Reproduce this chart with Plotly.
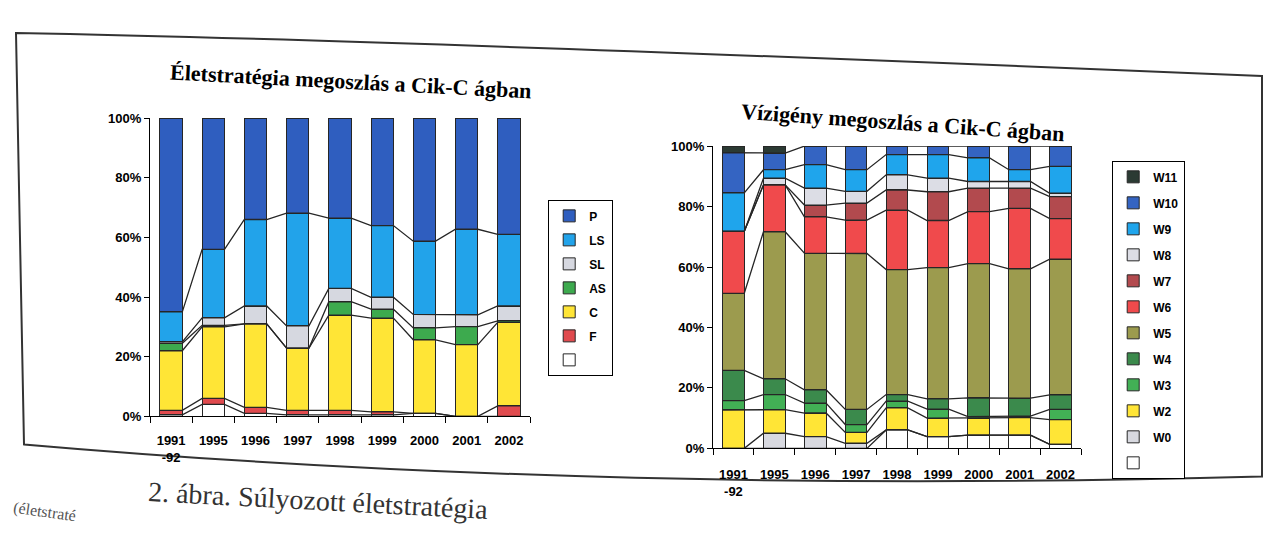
import plotly.graph_objects as go
import numpy as np

# Page geometry (empirical): rendered x = OX + fx, rendered y = VA + VB * fy
OX = 8
VA, VB = 15.0, 0.971
FW, FH = 1263, 533


def px(x):
    return (x - OX) / FW


def py(y):
    return 1 - ((y - VA) / VB) / FH


# ---------------- data ----------------
years = ["1991<br>-92", "1995", "1996", "1997", "1998", "1999", "2000", "2001", "2002"]

# Left chart: Életstratégia (bottom -> top)
blank_L = [0.5, 4.0, 1.0, 0.5, 0.5, 0.5, 1.0, 0.0, 0.0]
F = [1.5, 2.0, 2.0, 1.5, 1.5, 1.0, 0.0, 0.0, 3.5]
C = [20.0, 24.0, 28.0, 21.0, 32.0, 31.4, 24.7, 24.0, 28.0]
AS = [2.5, 0.5, 0.0, 0.0, 4.5, 3.0, 4.0, 6.0, 0.5]
SL = [0.5, 2.5, 6.0, 7.5, 4.5, 4.0, 4.5, 4.0, 5.0]
LS = [10.0, 23.0, 29.0, 38.0, 23.6, 24.0, 24.6, 28.6, 24.0]
P = [65.0, 44.0, 34.0, 32.0, 33.6, 36.0, 41.3, 37.2, 39.0]

# Right chart: Vízigény (bottom -> top)
blank_R = [0.0, 0.0, 0.0, 0.0, 6.1, 3.9, 4.4, 4.4, 1.3]
W0 = [0.0, 5.0, 3.9, 1.7, 0.0, 0.0, 0.0, 0.0, 0.0]
W2 = [12.7, 7.8, 7.8, 3.6, 7.3, 6.1, 5.6, 5.8, 8.2]
W3 = [3.1, 5.0, 3.3, 2.6, 2.2, 3.0, 0.5, 0.5, 3.4]
W4 = [10.0, 5.2, 4.4, 5.0, 2.2, 3.4, 6.2, 5.9, 4.8]
W5 = [25.5, 48.6, 45.2, 51.7, 41.3, 43.4, 44.4, 42.8, 44.9]
W6 = [20.5, 15.5, 12.0, 11.1, 19.6, 15.6, 17.2, 20.0, 13.4]
W7 = [0.0, 0.0, 3.9, 5.6, 6.7, 9.5, 7.8, 6.7, 7.3]
W8 = [0.0, 2.2, 5.6, 3.9, 5.0, 4.5, 2.2, 2.2, 1.1]
W9 = [12.7, 2.8, 7.8, 7.2, 6.7, 7.8, 7.8, 3.9, 8.9]
W10 = [13.3, 5.5, 6.1, 7.8, 2.8, 2.8, 3.9, 7.8, 6.7]
W11 = [2.2, 2.3, 0.0, 0.0, 0.0, 0.0, 0.0, 0.0, 0.0]

yticks = [0, 20, 40, 60, 80, 100]
ytick_labels = ["0%", "20%", "40%", "60%", "80%", "100%"]

left_series = [
    (" ", blank_L, "#FFFFFF"),
    ("F", F, "#E04A4E"),
    ("C", C, "#FFE536"),
    ("AS", AS, "#3DAA4E"),
    ("SL", SL, "#D6D8E0"),
    ("LS", LS, "#22A3EA"),
    ("P", P, "#2F5EBF"),
]
right_series = [
    (" ", blank_R, "#FFFFFF"),
    ("W0", W0, "#D8D9E0"),
    ("W2", W2, "#FFE536"),
    ("W3", W3, "#42B055"),
    ("W4", W4, "#3B8A4C"),
    ("W5", W5, "#9C9B4E"),
    ("W6", W6, "#F04A4C"),
    ("W7", W7, "#B24A4E"),
    ("W8", W8, "#DCDDE5"),
    ("W9", W9, "#1FA5EC"),
    ("W10", W10, "#3464C2"),
    ("W11", W11, "#2B3A33"),
]

xs = list(range(len(years)))
bw = 0.53
edge = "#262626"

fig = go.Figure()


def add_chart(series, xa, ya, leg):
    arr = np.array([s[1] for s in series], dtype=float)
    tot = arr.sum(axis=0)
    cum = np.cumsum(arr, axis=0) / tot * 100.0
    n = len(series)
    for i, (name, vals, col) in enumerate(series):
        fig.add_trace(go.Bar(
            x=xs, y=vals, name=name, width=bw,
            marker=dict(color=col, line=dict(color=edge, width=1)),
            xaxis=xa, yaxis=ya, legend=leg, legendgroup=leg + str(i),
            legendrank=100 + (n - i), hoverinfo="skip",
        ))
    # Series lines connecting the segment tops between bars
    for k in range(n - 1):
        lx, ly = [], []
        for j in xs:
            lx += [j - bw / 2, j + bw / 2]
            ly += [cum[k, j], cum[k, j]]
        fig.add_trace(go.Scatter(
            x=lx, y=ly, mode="lines", line=dict(color=edge, width=1.3),
            xaxis=xa, yaxis=ya, showlegend=False, hoverinfo="skip",
        ))


add_chart(left_series, "x", "y", "legend")
add_chart(right_series, "x2", "y2", "legend2")

tickfont = dict(family="Liberation Sans, Arial", size=13, color="black")

xcommon = dict(range=[-0.5, 8.5], tickvals=xs, ticktext=[f"<b>{t}</b>" for t in years],
               ticks="", showline=True, linecolor="black", linewidth=1.2,
               showgrid=False, zeroline=False, tickfont=tickfont, fixedrange=True)
ycommon = dict(range=[0, 100], tickvals=yticks, ticktext=[f"<b>{t}</b>" for t in ytick_labels],
               ticks="outside", ticklen=5, tickcolor="black", showline=True, linecolor="black",
               linewidth=1.2, showgrid=False, zeroline=False, tickfont=tickfont)
bticks = dict(range=[-0.5, 8.5], tickvals=[k - 0.5 for k in range(10)], ticks="outside",
              ticklen=6, tickcolor="black", showticklabels=False, showgrid=False,
              zeroline=False, showline=False)

legfont = dict(family="Liberation Sans, Arial", size=12, color="black", weight="bold")

fig.update_layout(
    width=FW, height=FH, margin=dict(l=0, r=0, t=0, b=0),
    barmode="stack", barnorm="percent",
    paper_bgcolor="white", plot_bgcolor="rgba(0,0,0,0)",
    font=dict(family="Liberation Sans, Arial", size=12, color="black"),
    xaxis=dict(domain=[px(150), px(530)], anchor="y", ticklabelstandoff=12, **xcommon),
    yaxis=dict(domain=[py(416), py(118)], anchor="x", **ycommon),
    xaxis2=dict(domain=[px(713), px(1081)], anchor="y2", ticklabelstandoff=14, **xcommon),
    yaxis2=dict(domain=[py(448), py(146)], anchor="x2", **ycommon),
    xaxis3=dict(overlaying="x", anchor="y", **bticks),
    xaxis4=dict(overlaying="x2", anchor="y2", **bticks),
    legend=dict(x=px(548), y=py(200), xanchor="left", yanchor="top",
                bordercolor="black", borderwidth=1.2, bgcolor="white",
                traceorder="grouped", tracegroupgap=5, itemwidth=30, font=legfont),
    legend2=dict(x=px(1112), y=py(161), xanchor="left", yanchor="top",
                 bordercolor="black", borderwidth=1.2, bgcolor="white",
                 traceorder="grouped", tracegroupgap=7, itemwidth=30, font=legfont),
)

# invisible traces to activate the tick-only overlay axes
fig.add_trace(go.Scatter(x=[None], y=[None], xaxis="x3", yaxis="y", showlegend=False))
fig.add_trace(go.Scatter(x=[None], y=[None], xaxis="x4", yaxis="y2", showlegend=False))

# Titles
titlefont = dict(family="Liberation Serif, Times New Roman", size=22, color="black")
fig.add_annotation(text="<b>Életstratégia megoszlás a Cik-C ágban</b>", x=px(351), y=py(81),
                   xref="paper", yref="paper", showarrow=False, textangle=3,
                   xanchor="center", yanchor="middle", font=titlefont)
fig.add_annotation(text="<b>Vízigény megoszlás a Cik-C ágban</b>", x=px(903), y=py(122),
                   xref="paper", yref="paper", showarrow=False, textangle=4,
                   xanchor="center", yanchor="middle", font=titlefont)

# Caption fragments of the scanned page
fig.add_annotation(text="2. ábra. Súlyozott életstratégia", x=px(318), y=py(500),
                   xref="paper", yref="paper", showarrow=False, xanchor="center",
                   yanchor="middle", textangle=3,
                   font=dict(family="Liberation Serif, Times New Roman", size=28, color="#333333"))
fig.add_annotation(text="(életstraté", x=px(10), y=py(512),
                   xref="paper", yref="paper", showarrow=False, xanchor="left",
                   yanchor="middle", textangle=8,
                   font=dict(family="Liberation Serif, Times New Roman", size=16, color="#555555"))

# Frame of the figure box on the page
fig.add_shape(type="path", xref="paper", yref="paper",
              path=(f"M {px(16)},{py(33)} Q {px(400)},{py(40)} {px(1262)},{py(76)} "
                    f"L {px(1262)},{py(476)} Q {px(600)},{py(494)} {px(24)},{py(444)} Z"),
              line=dict(color="#333333", width=2), fillcolor="rgba(0,0,0,0)", layer="below")

fig.write_html("out.html")
